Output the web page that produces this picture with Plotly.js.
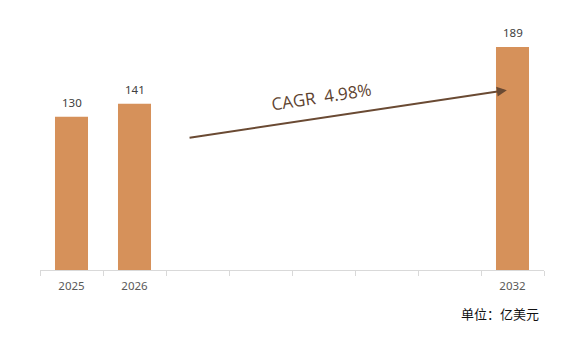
<!DOCTYPE html>
<html><head><meta charset="utf-8">
<script src="https://cdn.plot.ly/plotly-3.0.1.min.js"></script>
<style>html,body{margin:0;padding:0;background:#fff}</style>
</head><body>
<div id="chart" style="width:587px;height:341px"></div>
<script>
const years = ['2025','2026','2027','2028','2029','2030','2031','2032'];
const tickLabels = ['2025','2026','','','','','','2032'];
const values = [130, 141, null, null, null, null, null, 189];
const cagrText = 'CAGR  4.98%';
const unitText = '单位：亿美元';

const trace = {
  type: 'bar',
  x: years,
  y: values,
  marker: {color: '#D6915A'},
  hoverinfo: 'none'
};

const valueLabels = years.map((yr, i) => values[i] === null ? null : {
  xref: 'x', yref: 'y', x: i, y: values[i],
  text: String(values[i]), showarrow: false,
  yanchor: 'bottom', yshift: 5,
  font: {family: 'Noto Sans, sans-serif', size: 11.5, color: '#404040'}
}).filter(a => a);

const layout = {
  width: 587, height: 341,
  margin: {l: 40, r: 43, t: 20, b: 71},
  paper_bgcolor: '#fff', plot_bgcolor: '#fff',
  bargap: 0.476,
  showlegend: false,
  xaxis: {
    type: 'category',
    categoryorder: 'array', categoryarray: years,
    range: [-0.5, years.length - 0.5],
    tickmode: 'array', tickvals: years, ticktext: tickLabels,
    tickson: 'boundaries',
    ticks: 'outside', ticklen: 5, tickcolor: '#d9d9d9', tickwidth: 1,
    ticklabelstandoff: 5,
    showline: true, linecolor: '#d9d9d9', linewidth: 1,
    showgrid: false, zeroline: false,
    tickfont: {family: 'Noto Sans, sans-serif', size: 11.5, color: '#595959'},
    fixedrange: true
  },
  yaxis: {
    range: [0, 212], visible: false, showgrid: false, zeroline: false, fixedrange: true
  },
  annotations: valueLabels.concat([
    {
      xref: 'x', yref: 'y', axref: 'x', ayref: 'y',
      x: 6.91, y: 152.5, ax: 1.85, ay: 112,
      text: '', showarrow: true, arrowhead: 2, arrowsize: 1, arrowwidth: 2,
      arrowcolor: '#6A4A33'
    },
    {
      xref: 'x', yref: 'y',
      x: 3.97, y: 147, text: cagrText, showarrow: false, textangle: -8.6,
      font: {family: 'Open Sans, sans-serif', size: 17, color: '#5E4330'}
    },
    {
      xref: 'paper', yref: 'paper', x: 0.995, y: -0.172,
      xanchor: 'right', yanchor: 'middle',
      text: unitText, showarrow: false,
      font: {family: 'Noto Sans CJK SC, sans-serif', size: 13, color: '#111'}
    }
  ])
};

Plotly.newPlot('chart', [trace], layout, {staticPlot: true, displayModeBar: false});
</script>
</body></html>
